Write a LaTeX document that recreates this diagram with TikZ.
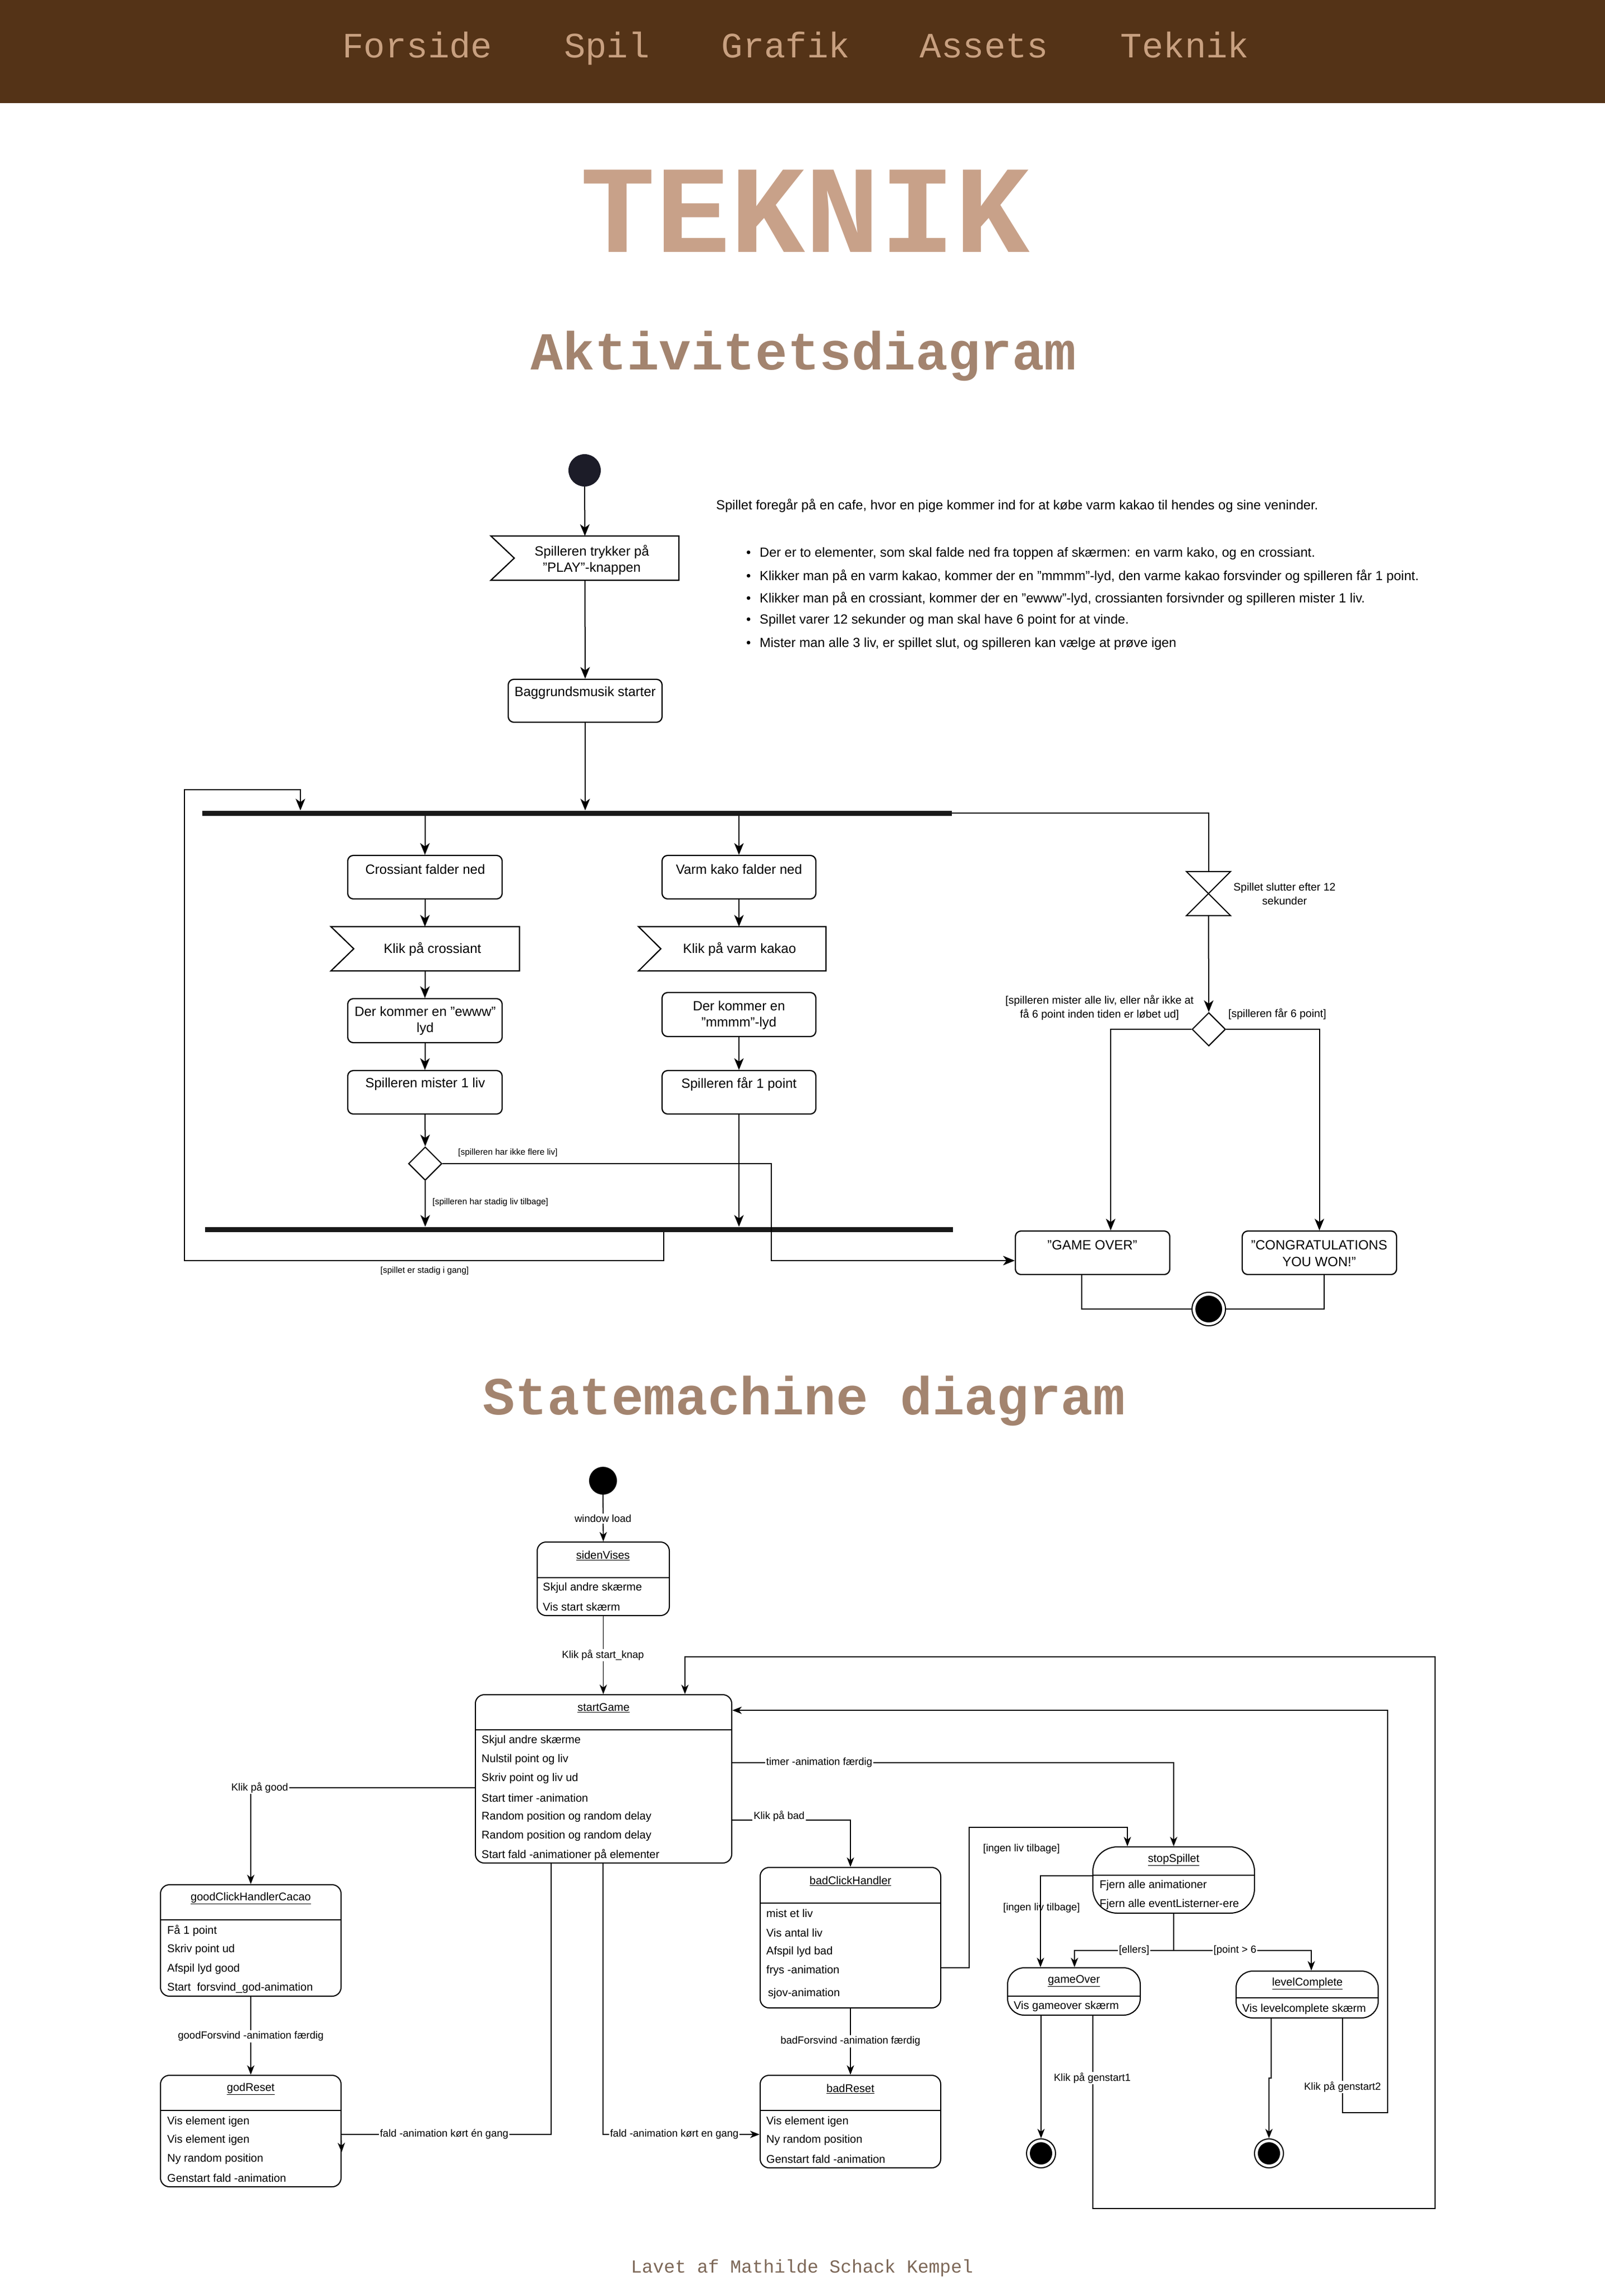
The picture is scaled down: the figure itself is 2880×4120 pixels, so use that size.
\documentclass[tikz,border=0pt]{standalone}
\usepackage{fontspec}
\setmainfont{Liberation Sans}
\newfontfamily\monofont{Liberation Mono}
\usetikzlibrary{arrows.meta,calc,shapes.geometric}
\definecolor{navbg}{RGB}{84,51,23}
\definecolor{navtxt}{RGB}{200,160,128}
\definecolor{titlec}{RGB}{200,161,137}
\definecolor{headc}{RGB}{163,132,111}
\definecolor{footc}{RGB}{125,104,88}
\definecolor{astartc}{RGB}{28,28,40}
\begin{document}
\begin{tikzpicture}[x=1pt,y=-1pt,
 ln/.style={line width=2pt},
 aarr/.style={line width=2pt,-{Stealth[length=21pt,width=17pt,inset=6pt]}},
 sarr/.style={line width=1.8pt,-{Stealth[length=17pt,width=13pt,inset=5pt]}},
 abox/.style={draw,line width=2.2pt,rounded corners=10pt,minimum width=277pt,minimum height=78pt,inner sep=0pt},
 ghost/.style={inner sep=0pt},
 bar/.style={fill=black!90,inner sep=0pt,minimum height=9pt},
 adia/.style={diamond,draw,line width=2pt,minimum width=60pt,minimum height=60pt,inner sep=0pt},
 atxt/.style={font=\fontsize{24}{29.5}\selectfont,align=center,inner sep=0pt},
 alab/.style={font=\fontsize{15.5}{18}\selectfont,inner sep=1pt},
 rlab/.style={font=\fontsize{19.5}{25}\selectfont,align=center,inner sep=0pt},
 desc/.style={font=\fontsize{23.7}{28}\selectfont,anchor=west,inner sep=0pt},
 sbox/.style={draw,line width=2pt,rounded corners=16pt,inner sep=0pt},
 pill/.style={draw,line width=2pt,rounded corners=30pt,inner sep=0pt},
 stitle/.style={font=\fontsize{20}{24}\selectfont,inner sep=0pt},
 sent/.style={font=\fontsize{20}{24}\selectfont,inner sep=0pt,anchor=west},
 slab/.style={font=\fontsize{18.5}{22}\selectfont,inner sep=2pt,fill=white},
 slabn/.style={font=\fontsize{18.5}{22}\selectfont,inner sep=2pt},
 navt/.style={font=\monofont\fontsize{64}{70}\selectfont,text=navtxt,inner sep=0pt,anchor=base},
 headt/.style={font=\monofont\bfseries\fontsize{96}{100}\selectfont,text=headc,inner sep=0pt,anchor=base},
]
\useasboundingbox (0,0) rectangle (2880,4120);
\fill[white] (0,0) rectangle (2880,4120);
\fill[navbg] (0,0) rectangle (2880,185);

% navigation
\node[navt] (nav1) at (749,103) {Forside};
\node[navt] (nav2) at (1089,103) {Spil};
\node[navt] (nav3) at (1410,103) {Grafik};
\node[navt] (nav4) at (1766,103) {Assets};
\node[navt] (nav5) at (2126,103) {Teknik};

% titles
\node[font=\monofont\bfseries\fontsize{224}{230}\selectfont,text=titlec,inner sep=0pt,anchor=base] (title) at (1445,452) {TEKNIK};
\node[headt] (h1) at (1442,663) {Aktivitetsdiagram};
\node[headt] (h2) at (1443,2538) {Statemachine diagram};
\node[font=\monofont\fontsize{33}{36}\selectfont,text=footc,inner sep=0pt,anchor=base] (foot) at (1439,4078) {Lavet af Mathilde Schack Kempel};

% ================= Activity diagram =================
\node[circle,fill=astartc,minimum size=58pt,inner sep=0pt] (astart) at (1049,844) {};
\node[ghost,minimum width=337pt,minimum height=79pt] (play) at (1049.5,1001.5) {};
\draw[line width=2.2pt] (play.north west) -- (play.north east) -- (play.south east) -- (play.south west) -- ($(play.west)+(42,0)$) -- cycle;
\node[atxt] (playt) at (1062,1005) {Spilleren trykker på\\"PLAY"-knappen};

\node[abox,minimum width=276pt,minimum height=77pt] (bg) at (1050,1257.5) {};
\node[atxt] (bgt) at (1050,1243) {Baggrundsmusik starter};

\node[bar,minimum width=1345pt] (fork) at (1035.5,1459) {};
\node[bar,minimum width=1342pt] (join) at (1039,2206) {};

\node[abox] (cf) at (762.5,1574) {};
\node[atxt] (cft) at (763,1560) {Crossiant falder ned};
\node[ghost,minimum width=338pt,minimum height=79pt] (kc) at (763,1702.5) {};
\draw[line width=2.2pt] (kc.north west) -- (kc.north east) -- (kc.south east) -- (kc.south west) -- ($(kc.west)+(41,0)$) -- cycle;
\node[atxt] (kct) at (776,1703) {Klik på crossiant};
\node[abox,minimum height=79pt] (ew) at (762.5,1831.5) {};
\node[atxt] (ewt) at (763,1832) {Der kommer en "ewww"\\lyd};
\node[abox] (ml) at (762.5,1960) {};
\node[atxt] (mlt) at (763,1945) {Spilleren mister 1 liv};
\node[adia] (d1) at (763,2088) {};

\node[abox,minimum width=276pt] (vk) at (1326,1574) {};
\node[atxt] (vkt) at (1326,1560) {Varm kako falder ned};
\node[ghost,minimum width=336pt,minimum height=79pt] (kv) at (1314,1702.5) {};
\draw[line width=2.2pt] (kv.north west) -- (kv.north east) -- (kv.south east) -- (kv.south west) -- ($(kv.west)+(40,0)$) -- cycle;
\node[atxt] (kvt) at (1327,1703) {Klik på varm kakao};
\node[abox,minimum width=276pt,minimum height=79pt] (mm) at (1326,1820.5) {};
\node[atxt] (mmt) at (1326,1822) {Der kommer en\\"mmmm"-lyd};
\node[abox,minimum width=276pt] (fp) at (1326,1960) {};
\node[atxt] (fpt) at (1326,1945) {Spilleren får 1 point};

\node[ghost,minimum width=79pt,minimum height=79pt] (hg) at (2168.5,1603.5) {};
\draw[line width=2pt] (hg.north west) -- (hg.north east) -- (hg.south west) -- (hg.south east) -- cycle;
\node[adia] (d2) at (2169,1847) {};
\node[abox] (go) at (1960.5,2248) {};
\node[atxt] (got) at (1960,2234) {"GAME OVER"};
\node[abox] (cg) at (2367.5,2248) {};
\node[atxt] (cgt) at (2367,2249) {"CONGRATULATIONS\\YOU WON!"};
\node[circle,draw,fill=white,line width=2pt,minimum size=60pt,inner sep=0pt] (aend) at (2169,2349) {};
\node[circle,fill=black,minimum size=48pt,inner sep=0pt] (aendi) at (2169,2349) {};

% activity connectors
\draw[aarr] (astart.south) -- (play.north);
\draw[aarr] (play.south) -- (bg.north);
\draw[aarr] (bg.south) -- (bg.south |- fork.north);
\draw[aarr] (cf.north |- fork.south) -- (cf.north);
\draw[aarr] (cf.south) -- (cf.south |- kc.north);
\draw[aarr] (cf.south |- kc.south) -- (ew.north);
\draw[aarr] (ew.south) -- (ml.north);
\draw[aarr] (ml.south) -- (d1.north);
\draw[aarr] (d1.south) -- (d1.south |- join.north);
\draw[aarr] (vk.north |- fork.south) -- (vk.north);
\draw[aarr] (vk.south) -- (vk.south |- kv.north);
\draw[aarr] (mm.south) -- (fp.north);
\draw[aarr] (fp.south) -- (fp.south |- join.north);
\draw[aarr] (d1.east) -- (1384,2088) |- (go.west |- 0,2262);
\draw[aarr] (join.south -| 1191,0) -- (1191,2262) -- (331,2262) -- (331,1417) -- (539,1417) -- (fork.north -| 539,0);
\draw[ln] (fork.east) -- (hg.north |- fork.east) -- (hg.north);
\draw[aarr] (hg.south) -- (d2.north);
\draw[aarr] (d2.west) -- (1993,1847) -- (go.north -| 1993,0);
\draw[aarr] (d2.east) -| (cg.north);
\draw[ln] (go.south -| 1941,0) |- (aend.west);
\draw[ln] (cg.south -| 2376,0) |- (aend.east);

% activity labels
\node[alab,anchor=west] (l1) at (821,2068) {[spilleren har ikke flere liv]};
\node[alab,anchor=west] (l2) at (775,2157) {[spilleren har stadig liv tilbage]};
\node[alab] (l3) at (762,2280) {[spillet er stadig i gang]};
\node[rlab] (l4) at (2305,1604) {Spillet slutter efter 12\\sekunder};
\node[rlab] (l5) at (1973,1808) {[spilleren mister alle liv, eller når ikke at\\få 6 point inden tiden er løbet ud]};
\node[rlab] (l6) at (2292,1820) {[spilleren får 6 point]};

% description
\node[desc] (dsc) at (1285,907) {Spillet foregår på en cafe, hvor en pige kommer ind for at købe varm kakao til hendes og sine veninder.};
\node[desc] (b1) at (1339,993) {\makebox[24pt][l]{\textbullet}Der er to elementer, som skal falde ned fra toppen af skærmen: en varm kako, og en crossiant.};
\node[desc] (b2) at (1339,1034) {\makebox[24pt][l]{\textbullet}Klikker man på en varm kakao, kommer der en "mmmm"-lyd, den varme kakao forsvinder og spilleren får 1 point.};
\node[desc] (b3) at (1339,1074) {\makebox[24pt][l]{\textbullet}Klikker man på en crossiant, kommer der en "ewww"-lyd, crossianten forsivnder og spilleren mister 1 liv.};
\node[desc] (b4) at (1339,1113) {\makebox[24pt][l]{\textbullet}Spillet varer 12 sekunder og man skal have 6 point for at vinde.};
\node[desc] (b5) at (1339,1155) {\makebox[24pt][l]{\textbullet}Mister man alle 3 liv, er spillet slut, og spilleren kan vælge at prøve igen};

% ================= State machine =================
\node[circle,fill=black,minimum size=50pt,inner sep=0pt] (ss) at (1082,2657) {};

\node[sbox,minimum width=237pt,minimum height=132pt] (sv) at (1082.5,2833) {};
\draw[ln] (sv.west |- 0,2831) -- (sv.east |- 0,2831);
\node[stitle] (svt) at (1082,2791) {\underline{sidenVises}};
\node[sent] (sv1) at (974,2849) {Skjul andre skærme};
\node[sent] (sv2) at (974,2883) {Vis start skærm};

\node[sbox,minimum width=460pt,minimum height=302pt] (sg) at (1083,3192) {};
\draw[ln] (sg.west |- 0,3104) -- (sg.east |- 0,3104);
\node[stitle] (sgt) at (1083,3065) {\underline{startGame}};
\node[sent] (sg1) at (864,3123) {Skjul andre skærme};
\node[sent] (sg2) at (864,3157) {Nulstil point og liv};
\node[sent] (sg3) at (864,3191) {Skriv point og liv ud};
\node[sent] (sg4) at (864,3226) {Start timer -animation};
\node[sent] (sg5) at (864,3260) {Random position og random delay};
\node[sent] (sg6) at (864,3294) {Random position og random delay};
\node[sent] (sg7) at (864,3328) {Start fald -animationer på elementer};

\node[sbox,minimum width=324pt,minimum height=200pt] (gc) at (450,3482) {};
\draw[ln] (gc.west |- 0,3445) -- (gc.east |- 0,3445);
\node[stitle] (gct) at (450,3406) {\underline{goodClickHandlerCacao}};
\node[sent] (gc1) at (300,3464) {Få 1 point};
\node[sent] (gc2) at (300,3498) {Skriv point ud};
\node[sent] (gc3) at (300,3533) {Afspil lyd good};
\node[sent] (gc4) at (300,3567) {Start~ forsvind\_god-animation};

\node[sbox,minimum width=324pt,minimum height=200pt] (gr) at (450,3824) {};
\draw[ln] (gr.west |- 0,3787) -- (gr.east |- 0,3787);
\node[stitle] (grt) at (450,3748) {\underline{godReset}};
\node[sent] (gr1) at (300,3807) {Vis element igen};
\node[sent] (gr2) at (300,3840) {Vis element igen};
\node[sent] (gr3) at (300,3874) {Ny random position};
\node[sent] (gr4) at (300,3908) {Genstart fald -animation};

\node[sbox,minimum width=324pt,minimum height=252pt] (bc) at (1526,3477) {};
\draw[ln] (bc.west |- 0,3415) -- (bc.east |- 0,3415);
\node[stitle] (bct) at (1526,3375) {\underline{badClickHandler}};
\node[sent] (bc1) at (1375,3433) {mist et liv};
\node[sent] (bc2) at (1375,3468) {Vis antal liv};
\node[sent] (bc3) at (1375,3502) {Afspil lyd bad};
\node[sent] (bc4) at (1375,3536) {frys -animation};
\node[sent] (bc5) at (1378,3577) {sjov-animation};

\node[sbox,minimum width=324pt,minimum height=166pt] (br) at (1526,3807) {};
\draw[ln] (br.west |- 0,3787) -- (br.east |- 0,3787);
\node[stitle] (brt) at (1526,3748) {\underline{badReset}};
\node[sent] (br1) at (1375,3807) {Vis element igen};
\node[sent] (br2) at (1375,3840) {Ny random position};
\node[sent] (br3) at (1375,3874) {Genstart fald -animation};

\node[pill,rounded corners=44pt,minimum width=290pt,minimum height=119pt] (sp) at (2106,3373.5) {};
\draw[ln] (sp.west |- 0,3365) -- (sp.east |- 0,3365);
\node[stitle] (spt) at (2106,3337) {\underline{stopSpillet}};
\node[sent] (sp1) at (1973,3383) {Fjern alle animationer};
\node[sent] (sp2) at (1973,3417) {Fjern alle eventListerner-ere};

\node[pill,minimum width=238pt,minimum height=85pt] (gov) at (1927,3573.5) {};
\draw[ln] (gov.west |- 0,3582) -- (gov.east |- 0,3582);
\node[stitle] (govt) at (1927,3555) {\underline{gameOver}};
\node[sent] (gov1) at (1819,3600) {Vis gameover skærm};

\node[pill,minimum width=255pt,minimum height=84pt] (lc) at (2345.5,3579) {};
\draw[ln] (lc.west |- 0,3585) -- (lc.east |- 0,3585);
\node[stitle] (lct) at (2346,3559) {\underline{levelComplete}};
\node[sent] (lc1) at (2229,3605) {Vis levelcomplete skærm};

\node[circle,draw,fill=white,line width=2pt,minimum size=52pt,inner sep=0pt] (e1) at (1868,3864) {};
\node[circle,fill=black,minimum size=40pt,inner sep=0pt] (e1i) at (1868,3864) {};
\node[circle,draw,fill=white,line width=2pt,minimum size=52pt,inner sep=0pt] (e2) at (2277,3864) {};
\node[circle,fill=black,minimum size=40pt,inner sep=0pt] (e2i) at (2277,3864) {};

% state connectors
\draw[sarr] (ss.south) -- (sv.north);
\draw[sarr] (sv.south) -- (sv.south |- sg.north);
\draw[sarr] (sg.west |- 0,3208) -| (gc.north);
\draw[sarr] (gc.south) -- (gr.north);
\draw[sarr] (sg.south -| 989,0) -- (989,3830) -- (612,3830) -- (gr.east |- 0,3862);
\draw[sarr] (sg.south -| 1082,0) |- (br.west |- 0,3830);
\draw[sarr] (sg.east |- 0,3266) -| (bc.north);
\draw[sarr] (bc.south) -- (br.north);
\draw[sarr] (bc.east |- 0,3531) -- (1739,3531) -- (1739,3279) -| (sp.north -| 2023,0);
\draw[sarr] (sg.east |- 0,3163) -| (sp.north);
\draw[sarr] (sp.west |- 0,3366) -| (gov.north -| 1867,0);
\draw[sarr] (sp.south) -- (2106,3500) -| (gov.north -| 1928,0);
\draw[sarr] (sp.south |- 0,3500) -| (lc.north -| 2353,0);
\draw[sarr] (gov.south -| 1868,0) -- (e1.north);
\draw[sarr] (gov.south -| 1961,0) -- (1961,3963) -- (2575,3963) -- (2575,2973) -| (sg.north -| 1229,0);
\draw[sarr] (lc.south -| 2281,0) -- (2281,3729) -- (2277,3729) -- (e2.north);
\draw[sarr] (lc.south -| 2409,0) -- (2409,3791) -- (2490,3791) -- (2490,3069) -- (sg.east |- 0,3069);

% state labels
\node[slab] (w1) at (1082,2725) {window load};
\node[slab] (w2) at (1082,2970) {Klik på start\_knap};
\node[slab] (w3) at (466,3208) {Klik på good};
\node[slab] (w4) at (450,3654) {goodForsvind -animation færdig};
\node[slab] (w5) at (797,3830) {fald -animation kørt én gang};
\node[slab] (w6) at (1210,3830) {fald -animation kørt en gang};
\node[slab] (w7) at (1398,3259) {Klik på bad};
\node[slab] (w8) at (1526,3663) {badForsvind -animation færdig};
\node[slabn] (w9) at (1833,3318) {[ingen liv tilbage]};
\node[slab] (w10) at (1470,3163) {timer -animation færdig};
\node[slabn] (w11) at (1869,3424) {[ingen liv tilbage]};
\node[slab] (w12) at (2035,3500) {[ellers]};
\node[slab] (w13) at (2216,3500) {[point > 6};
\node[slab] (w14) at (1960,3729) {Klik på genstart1};
\node[slab] (w15) at (2409,3745) {Klik på genstart2};
\end{tikzpicture}
\end{document}
